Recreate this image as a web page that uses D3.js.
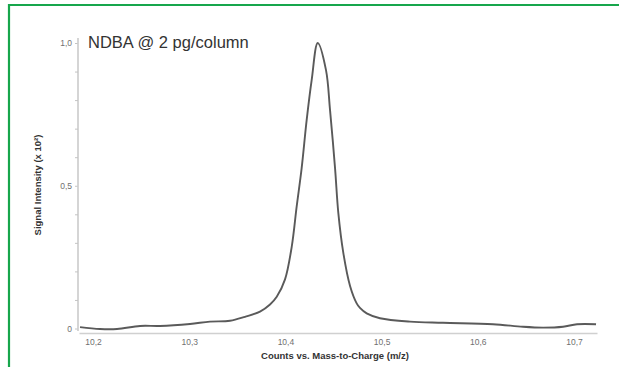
<!DOCTYPE html>
<html lang="en">
<head>
  <meta charset="utf-8">
  <title>NDBA @ 2 pg/column</title>
  <script src="https://cdn.jsdelivr.net/npm/d3@7"></script>
  <style>
    body { margin: 0; background: #fff; }
  </style>
</head>
<body>
  <svg class="chart" width="619" height="367"></svg>
  <script>
    var width = 619, height = 367;

    // m/z values and signal intensity (x 10^2)
    var mz = [10.1865, 10.2073, 10.225, 10.2489, 10.2696, 10.3008, 10.3216, 10.3424,
              10.358, 10.3736, 10.384, 10.391, 10.3996, 10.4066, 10.4117,
              10.4169, 10.4221, 10.4273, 10.4336, 10.4422, 10.4464, 10.4516, 10.455,
              10.4602, 10.4672, 10.4741, 10.4775, 10.4845, 10.4983, 10.5295, 10.5638,
              10.6158, 10.647, 10.6678, 10.6886, 10.7031, 10.7229];
    var intensity = [0.005, -0.002, -0.002, 0.009, 0.009, 0.016, 0.024, 0.027,
                     0.041, 0.059, 0.084, 0.111, 0.172, 0.287, 0.427,
                     0.562, 0.730, 0.870, 1.0, 0.905, 0.765, 0.562, 0.405,
                     0.265, 0.149, 0.088, 0.072, 0.053, 0.036, 0.024, 0.020,
                     0.015, 0.006, 0.003, 0.006, 0.015, 0.015];

    var xTicks = [10.2, 10.3, 10.4, 10.5, 10.6, 10.7];
    var yTicks = [0, 0.5, 1.0];
    var yMinor = [0.1, 0.2, 0.3, 0.4, 0.6, 0.7, 0.8, 0.9];

    var title = "NDBA @ 2 pg/column";
    var xTitle = "Counts vs. Mass-to-Charge (m/z)";
    var yTitle = "Signal Intensity (x 10\u00b2)";

    var data = mz.map(function(d, i) { return { mz: d, v: intensity[i] }; });

    var x = d3.scaleLinear()
              .domain([10.18545, 10.7239])
              .range([79, 597]);

    var y = d3.scaleLinear()
              .domain([0, 1])
              .range([328.5, 43]);

    var comma = function(d) { return d === 0 ? "0" : d3.format(".1f")(d).replace(".", ","); };

    var svg = d3.select("svg.chart");

    // green frame, top and left only
    svg.append("path")
       .attr("d", "M9,367 V5 H619")
       .attr("fill", "none")
       .attr("stroke", "#17a64c")
       .attr("stroke-width", 2.2);

    // y axis
    var yAxis = svg.append("g")
       .attr("transform", "translate(78,0)")
       .call(d3.axisLeft(y).tickValues(yTicks).tickFormat(comma).tickSize(3).tickPadding(3));
    yAxis.append("g")
       .call(d3.axisLeft(y).tickValues(yMinor).tickFormat("").tickSize(3));
    yAxis.selectAll(".domain")
       .attr("d", "M0," + 38 + "V" + 331);
    yAxis.selectAll("line").attr("stroke", "#c4c4c4");
    yAxis.selectAll(".domain").attr("stroke", "#d0d0d0").attr("stroke-width", 1.3);
    yAxis.selectAll("text")
       .attr("fill", "#707070")
       .style("font", "8.5px 'Liberation Sans', Arial, sans-serif");

    // x axis
    var xAxis = svg.append("g")
       .attr("transform", "translate(0,333)")
       .call(d3.axisBottom(x).tickValues(xTicks).tickFormat(comma).tickSize(0).tickPadding(6));
    xAxis.selectAll(".domain").attr("stroke", "#d0d0d0").attr("stroke-width", 1.3);
    xAxis.selectAll("text")
       .attr("fill", "#707070")
       .style("font", "8.5px 'Liberation Sans', Arial, sans-serif");

    // signal trace
    var line = d3.line()
                 .curve(d3.curveCatmullRom.alpha(0.5))
                 .x(function(d) { return x(d.mz); })
                 .y(function(d) { return y(d.v); });

    svg.append("path")
       .datum(data)
       .attr("d", line)
       .attr("fill", "none")
       .attr("stroke", "#5a5a5a")
       .attr("stroke-width", 1.9)
       .attr("stroke-linejoin", "round");

    // titles
    svg.append("text")
       .attr("x", 88)
       .attr("y", 48)
       .attr("fill", "#333")
       .style("font", "16.5px 'Liberation Sans', Arial, sans-serif")
       .text(title);

    svg.append("text")
       .attr("x", 335)
       .attr("y", 359)
       .attr("text-anchor", "middle")
       .attr("fill", "#333")
       .style("font", "bold 9.5px 'Liberation Sans', Arial, sans-serif")
       .text(xTitle);

    svg.append("text")
       .attr("transform", "translate(41,185) rotate(-90)")
       .attr("text-anchor", "middle")
       .attr("fill", "#333")
       .style("font", "bold 9.5px 'Liberation Sans', Arial, sans-serif")
       .text(yTitle);
  </script>
</body>
</html>
